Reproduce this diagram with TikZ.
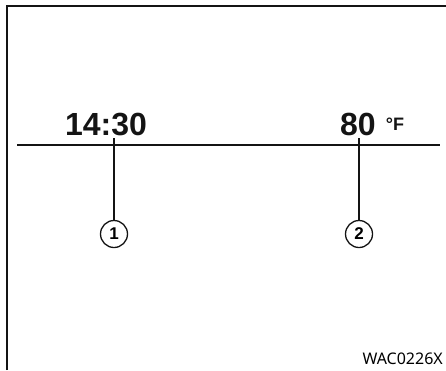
\documentclass[tikz,border=0pt]{standalone}
\usepackage{fontspec}
\setmainfont{Liberation Sans}
\newfontfamily\labelfont{Noto Sans}
\usepackage{xcolor}
\definecolor{wacblack}{RGB}{20, 20, 20}
\usetikzlibrary{positioning}

\tikzset{
  readout/.style={anchor=base, inner sep=0pt, font=\bfseries\fontsize{32}{32}\selectfont, text=wacblack},
  callout/.style={draw=wacblack, circle, line width=1.3pt, minimum size=27pt, inner sep=0pt,
    font=\bfseries\fontsize{17}{17}\selectfont},
  leader/.style={draw=wacblack, line width=1.4pt}
}

\begin{document}
\begin{tikzpicture}[x=1pt, y=-1pt]
    \useasboundingbox (0,0) rectangle (446,370);
    % frame
    \draw[leader, line width=1.6pt] (7,370) -- (7,6) -- (446,6);
    % display
    \node[readout] (time) at (106,135) {14:30};
    \node[readout, anchor=base west] (temp) at (340,135)
      {80\hspace{10pt}\raisebox{5pt}{\fontsize{18}{18}\selectfont °F}};
    \coordinate (ruleL) at (17,145);
    \coordinate (ruleR) at (440,145);
    \draw[leader] (ruleL) -- (ruleR);
    % callouts
    \node[callout] (c1) at (114,234) {1};
    \node[callout] (c2) at (359,234) {2};
    \coordinate (p1) at (114,138);
    \coordinate (p2) at (359,138);
    \draw[leader] (p1) -- (c1.north);
    \draw[leader] (p2) -- (c2.north);
    \node[anchor=base east, inner sep=0pt, font=\labelfont\fontsize{16}{16}\selectfont] (code) at (443,364) {WAC0226X};
  \end{tikzpicture}
\end{document}
